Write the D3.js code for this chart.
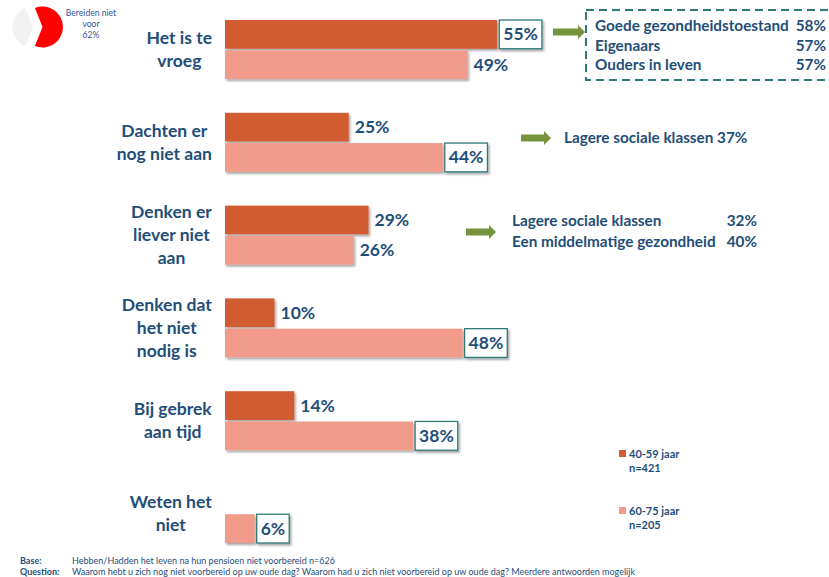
<!DOCTYPE html>
<html><head><meta charset="utf-8">
<script src="https://cdn.jsdelivr.net/npm/d3@7"></script>
<style>
body{margin:0;background:#fff;}
svg{display:block;font-family:Lato,"Open Sans",sans-serif;}
</style></head>
<body><svg id="c" width="829" height="577"></svg>
<script>
// ---- data ----
const categories = ["Het is te vroeg","Dachten er nog niet aan","Denken er liever niet aan","Denken dat het niet nodig is","Bij gebrek aan tijd","Weten het niet"];
const categoryLines = [["Het is te","vroeg"],["Dachten er","nog niet aan"],["Denken er","liever niet","aan"],["Denken dat","het niet","nodig is"],["Bij gebrek","aan tijd"],["Weten het","niet"]];
const seriesNames = ["40-59 jaar","60-75 jaar"];
const seriesN = ["n=421","n=205"];
const values4059 = [55,25,29,10,14,null];
const values6075 = [49,44,26,48,38,6];
const boxed4059 = [true,false,false,false,false,false];
const boxed6075 = [false,true,false,true,true,true];
const pieLabels = ["Bereiden niet","voor","62%"];
const pieValues = [62,38];
const note1Labels = ["Goede gezondheidstoestand","Eigenaars","Ouders in leven"];
const note1Values = ["58%","57%","57%"];
const note2Labels = ["Lagere sociale klassen 37%"];
const note3Labels = ["Lagere sociale klassen","Een middelmatige gezondheid"];
const note3Values = ["32%","40%"];
const footLabels = ["Base:","Question:"];
const footTexts = ["Hebben/Hadden het leven na hun pensioen niet voorbereid n=626","Waarom hebt u zich nog niet voorbereid op uw oude dag? Waarom had u zich niet voorbereid op uw oude dag?  Meerdere antwoorden mogelijk"];

// ---- style ----
const NAVY = "#1F4E79", DARK = "#D15B32", LIGHT = "#F19C8B", TEAL = "#2E7A78", GREEN = "#77933C";
const svg = d3.select("#c");
const defs = svg.append("defs");
const f = defs.append("filter").attr("id","sh").attr("x","-10%").attr("y","-20%").attr("width","130%").attr("height","160%");
f.append("feDropShadow").attr("dx",1.5).attr("dy",2).attr("stdDeviation",1).attr("flood-color","#000").attr("flood-opacity",0.35);

const x = d3.scaleLinear().domain([0,100]).range([225,720]);
const y = d3.scaleBand().domain(categories).range([20,543]).paddingInner(0.364).paddingOuter(0);
const ySub = d3.scaleBand().domain([0,1]).range([0,y.bandwidth()]).paddingInner(0.05);

const rows = categories.map((c,i)=>({c,i,lines:categoryLines[i],vals:[values4059[i],values6075[i]],boxed:[boxed4059[i],boxed6075[i]]}));
const colors = [DARK, LIGHT];

// category labels
const lab = svg.append("g").attr("font-weight","bold").attr("font-size",17.5).attr("fill",NAVY);
rows.forEach(r=>{
  const g = lab.append("g");
  const lh = 23;
  const cy = y(r.c) + y.bandwidth()/2;
  const t = g.append("text").attr("text-anchor","middle");
  r.lines.forEach((l,k)=>{
    t.append("tspan").attr("x",0).attr("y", cy + (k-(r.lines.length-1)/2)*lh + 6).text(l);
  });
  const w = t.node().getBBox().width;
  t.attr("transform",`translate(${212 - w/2},0)`);
});

// bars
const bars = svg.append("g");
rows.forEach(r=>{
  r.vals.forEach((v,s)=>{
    if(v==null) return;
    const yy = y(r.c)+ySub(s), h = ySub.bandwidth();
    bars.append("rect").attr("x",x(0)).attr("y",yy).attr("width",x(v)-x(0)).attr("height",h)
      .attr("fill",colors[s]).attr("filter","url(#sh)");
    const label = v+"%";
    if(r.boxed[s]){
      const t = bars.append("text").attr("x",x(v)+6).attr("y",yy+h/2+6).attr("font-weight","bold").attr("font-size",17.5).attr("fill",NAVY).text(label);
      const w = t.node().getComputedTextLength();
      bars.insert("rect","text:last-of-type").attr("x",x(v)+2).attr("y",yy).attr("width",w+8).attr("height",h)
        .attr("fill","#fff").attr("stroke",TEAL).attr("stroke-width",1.3).attr("filter","url(#sh)");
      t.raise();
    } else {
      bars.append("text").attr("x",x(v)+6).attr("y",yy+h/2+6).attr("font-weight","bold").attr("font-size",17.5).attr("fill",NAVY).text(label);
    }
  });
});

// arrows
function arrow(x0,x1,cy){
  svg.append("path").attr("fill",GREEN)
    .attr("d",`M${x0},${cy-3.5}L${x1-7},${cy-3.5}L${x1-7},${cy-7}L${x1},${cy}L${x1-7},${cy+7}L${x1-7},${cy+3.5}L${x0},${cy+3.5}Z`);
}
const NF = 15.3;
// note 1
arrow(553,585,32);
svg.append("rect").attr("x",586).attr("y",10).attr("width",260).attr("height",70)
  .attr("fill","none").attr("stroke",TEAL).attr("stroke-width",2).attr("stroke-dasharray","8,5");
const n1 = svg.append("g").attr("font-weight","bold").attr("font-size",NF).attr("fill",NAVY);
note1Labels.forEach((l,k)=>{
  n1.append("text").attr("x",595).attr("y",31+k*19.5).text(l);
  n1.append("text").attr("x",826).attr("y",31+k*19.5).attr("text-anchor","end").text(note1Values[k]);
});
// note 2
arrow(521,551,138);
svg.append("text").attr("x",564).attr("y",143).attr("font-weight","bold").attr("font-size",NF).attr("fill",NAVY).text(note2Labels[0]);
// note 3
arrow(466,496,232);
const n3 = svg.append("g").attr("font-weight","bold").attr("font-size",NF).attr("fill",NAVY);
note3Labels.forEach((l,k)=>{
  n3.append("text").attr("x",512).attr("y",226+k*20.5).text(l);
  n3.append("text").attr("x",757).attr("y",226+k*20.5).attr("text-anchor","end").text(note3Values[k]);
});

// legend
const lg = svg.append("g").attr("font-weight","bold").attr("font-size",11).attr("fill",NAVY);
seriesNames.forEach((s,k)=>{
  const ly = 450 + k*57;
  lg.append("rect").attr("x",619).attr("y",ly).attr("width",7).attr("height",7).attr("fill",colors[k]);
  lg.append("text").attr("x",629).attr("y",ly+7.5).text(s);
  lg.append("text").attr("x",629).attr("y",ly+21.5).text(seriesN[k]);
});

// pie (red slice centred towards the right)
const redSweep = 2*Math.PI*pieValues[0]/d3.sum(pieValues);
const a0 = Math.PI/2 - redSweep/2;
const pie = d3.pie().sort(null).startAngle(a0).endAngle(a0+2*Math.PI)(pieValues);
const arc = d3.arc().innerRadius(0).outerRadius(20.5);
const pg = svg.append("g").attr("transform","translate(40,27)");
const pieColors = ["#FF0000","#F2F2F2"];
pie.forEach((p,k)=>{
  const mid = (p.startAngle+p.endAngle)/2;
  const off = k===0 ? 2.5 : 7;
  pg.append("path").attr("d",arc(p)).attr("fill",pieColors[k])
    .attr("transform",`translate(${Math.sin(mid)*off},${-Math.cos(mid)*off})`);
});
const pt = svg.append("g").attr("font-size",8.6).attr("fill","#2F5597").attr("text-anchor","middle");
pieLabels.forEach((l,k)=>pt.append("text").attr("x",91).attr("y",16+k*11).text(l));

// footer
const ft = svg.append("g").attr("font-size",9).attr("fill",NAVY);
footLabels.forEach((l,k)=>{
  ft.append("text").attr("x",20).attr("y",564+k*10.5).attr("font-weight","bold").text(l);
  ft.append("text").attr("x",72).attr("y",564+k*10.5).text(footTexts[k]);
});
</script></body></html>
